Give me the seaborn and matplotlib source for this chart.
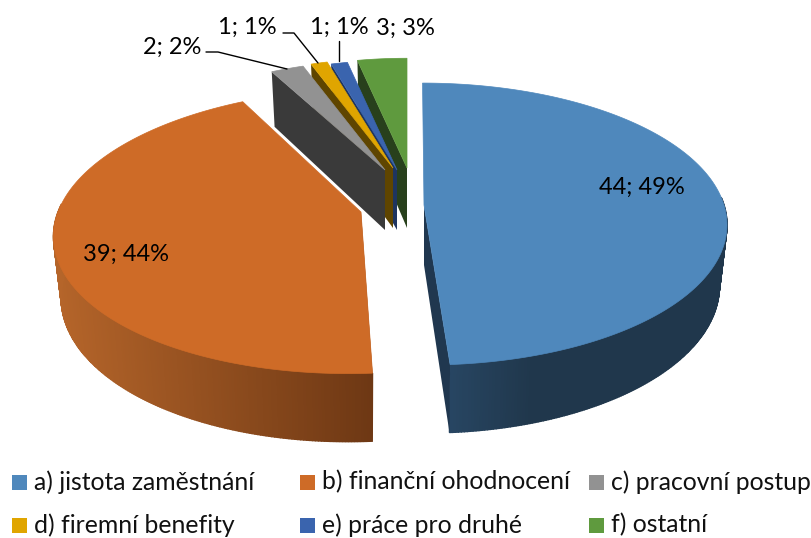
import numpy as np
import matplotlib
matplotlib.use("Agg")
import matplotlib.pyplot as plt
import seaborn as sns
from matplotlib.colors import to_rgb
from matplotlib.patches import Rectangle

categories = ["a) jistota zaměstnání", "b) finanční ohodnocení", "c) pracovní postup",
              "d) firemní benefity", "e) práce pro druhé", "f) ostatní"]
values = [44, 39, 2, 1, 1, 3]
percents = [49, 44, 2, 1, 1, 3]

top_colors = ["#4F88BC", "#CE6B27", "#929292", "#E0A500", "#3A64AE", "#5F9A3E"]
inner_colors = ["#20374F", "#6E3814", "#3A3A3A", "#5F4500", "#1E3560", "#28401C"]
rim_light = ["#2A4B6A", "#B5652A", "#3A3A3A", "#5F4500", "#1E3560", "#28401C"]
rim_dark = ["#20374C", "#6E3814", "#3A3A3A", "#5F4500", "#1E3560", "#28401C"]

# where each slice's tip sits on the picture, and how big the slice is drawn
apex = [(424, 205), (361, 212), (385, 170), (393, 168), (397, 170), (407, 168)]
scale = [1, 1.01, 0.9, 0.9, 0.9, 0.9]
shear = [0.012, -0.08, 0, 0, 0, 0]
RX, RY, PERSP = 300, 138.4, 0.135

sns.set_theme(style="white")
plt.rcParams["font.family"] = ["Lato", "DejaVu Sans"]


def project(ang, r=1.0, sh=0.0):
    # circle in the pie plane -> picture, nearer edge comes out bigger
    u, v = np.sin(ang), np.cos(ang)
    w = 1 + PERSP * v
    y = -r * RY * v / w
    return r * RX * u / w + sh * y, y


def lower(x, y):
    return x * 0.975, y * 1.05 + 60


fig = plt.figure(figsize=(8.11, 5.38), dpi=100)
ax = fig.add_axes([0, 0, 1, 1])
ax.set_xlim(0, 811)
ax.set_ylim(538, 0)
ax.axis("off")

edges = np.concatenate([[0], np.cumsum(values)]) / sum(values) * 2 * np.pi

# back to front: small slices right to left, then the two big ones
for i in [5, 4, 3, 2, 1, 0]:
    ax0, ay0 = apex[i]
    z = 10 - i
    th = np.linspace(edges[i], edges[i + 1], max(int(values[i]) * 8, 12))
    x, y = project(th, scale[i], shear[i])
    xb, yb = lower(x, y)

    # rim, shaded along x, only the part that faces the viewer
    c0, c1 = np.array(to_rgb(rim_light[i])), np.array(to_rgb(rim_dark[i]))
    if i == 0:
        span = np.clip((x - x.min()) / 110.0, 0, 1)
    else:
        span = (x - x.min()) / max(x.max() - x.min(), 1)
    for k in range(len(th) - 1):
        if np.cos(th[k]) > 0.05 and np.cos(th[k + 1]) > 0.05:
            continue
        qx = [x[k], x[k + 1], xb[k + 1], xb[k]]
        qy = [y[k], y[k + 1], yb[k + 1], yb[k]]
        col = c0 + (c1 - c0) * span[k]
        ax.fill(np.array(qx) + ax0, np.array(qy) + ay0, color=col, lw=1, zorder=z)

    # the cut face that looks towards the viewer
    j = -1 if i == 0 else 0
    ex, ey = x[j], y[j]
    ebx, eby = lower(ex, ey)
    tbx, tby = lower(0.0, 0.0)
    ax.fill(np.array([0, ex, ebx, tbx]) + ax0, np.array([0, ey, eby, tby]) + ay0,
            color=inner_colors[i], lw=0, zorder=z)

    # top face
    ax.fill(np.r_[0, x] + ax0, np.r_[0, y] + ay0, color=top_colors[i], lw=0.5, zorder=z)

# value labels
labels = [f"{v}; {p}%" for v, p in zip(values, percents)]
label_pos = [(642, 187), (126, 254), (172, 47), (247, 27), (339, 27), (405, 28)]
for t, (lx, ly) in zip(labels, label_pos):
    ax.text(lx, ly, t, ha="center", va="center", fontsize=17, color="black", zorder=20)

# leader lines
ax.plot([206, 218, 287], [52, 52, 69], color="black", lw=1, zorder=21)
ax.plot([283, 294, 318], [33, 33, 63], color="black", lw=1, zorder=21)
ax.plot([339, 339], [41, 61], color="black", lw=1, zorder=21)

# legend
leg_x = [12, 300, 589]
leg_y = [482, 525]
for i, name in enumerate(categories):
    lx, ly = leg_x[i % 3], leg_y[i // 3]
    ax.add_patch(Rectangle((lx, ly - 7.5), 15, 15, color=top_colors[i], lw=0))
    ax.text(lx + 22, ly, name, ha="left", va="center", fontsize=17.8, color="#111111")

fig.savefig("out.png", dpi=100)
